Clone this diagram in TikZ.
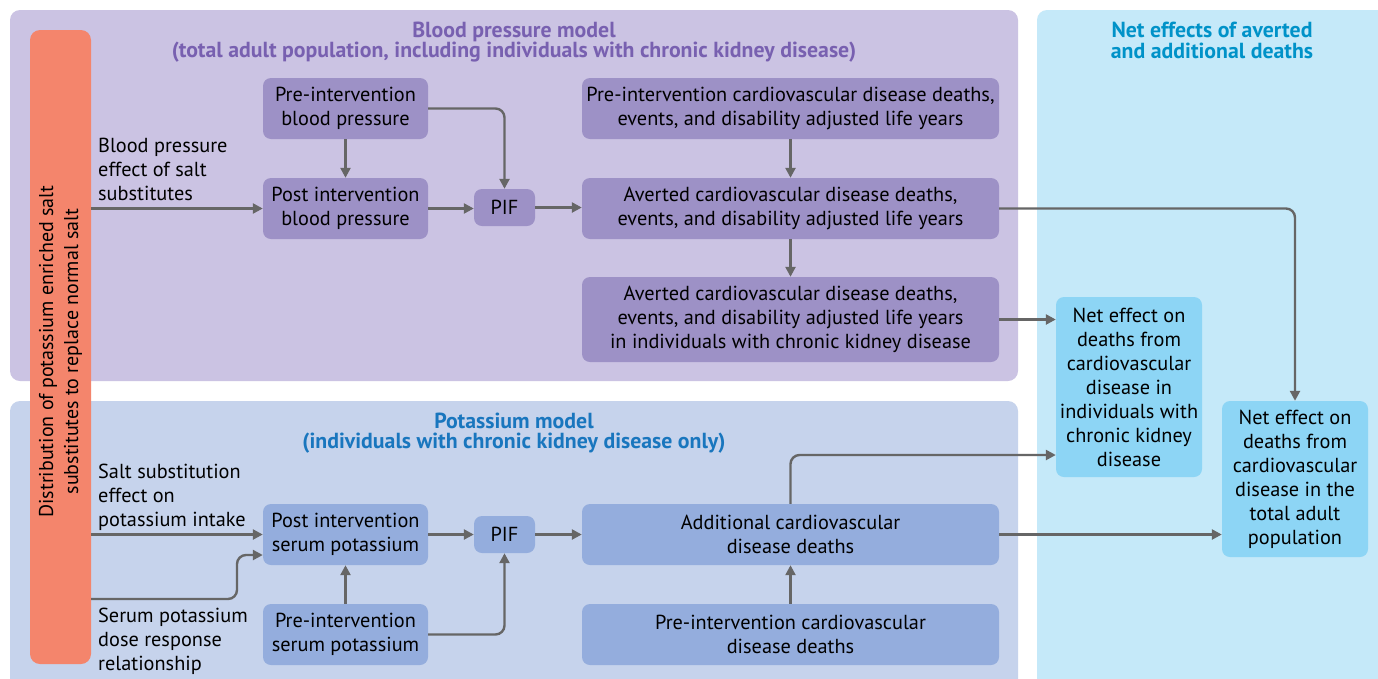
\documentclass[tikz,border=0pt]{standalone}
\usepackage{fontspec}
\setmainfont{PT Sans}
\usetikzlibrary{arrows.meta}
\definecolor{bppanel}{RGB}{203,195,227}
\definecolor{bpbox}{RGB}{157,145,198}
\definecolor{kpanel}{RGB}{198,211,236}
\definecolor{kbox}{RGB}{148,173,221}
\definecolor{netpanel}{RGB}{197,233,249}
\definecolor{netbox}{RGB}{141,213,245}
\definecolor{orangebar}{RGB}{244,133,108}
\definecolor{bptitle}{RGB}{120,96,176}
\definecolor{ktitle}{RGB}{25,118,190}
\definecolor{nettitle}{RGB}{0,146,200}
\definecolor{arrowgray}{RGB}{102,102,102}
\tikzset{
  boxbase/.style={rounded corners=8pt, inner sep=0pt, align=center, font=\fontsize{20.3}{24}\selectfont},
  bpnode/.style={boxbase, fill=bpbox},
  knode/.style={boxbase, fill=kbox},
  netnode/.style={boxbase, fill=netbox},
  lbl/.style={align=left, anchor=base west, inner sep=0pt, font=\fontsize{20.3}{24}\selectfont},
  ttl/.style={align=center, anchor=base, inner sep=0pt, font=\bfseries\fontsize{21.8}{20.5}\selectfont},
  conn/.style={draw=arrowgray, line width=2.4pt, rounded corners=9pt, -{Triangle[length=10pt,width=10pt]}},
}
\begin{document}
\begin{tikzpicture}[x=1pt,y=-1pt]
\clip (0,0) rectangle (1378,678);
\fill[white] (0,0) rectangle (1378,678);
% panels
\fill[bppanel, rounded corners=10pt] (10,10) rectangle (1018,381);
\fill[kpanel, rounded corners=10pt] (10,401) rectangle (1018,700);
\fill[netpanel, rounded corners=10pt] (1037,10) rectangle (1400,700);
% titles (base anchor = last line baseline)
\node[ttl, text=bptitle] (bpt) at (514,57.5) {Blood pressure model\\(total adult population, including individuals with chronic kidney disease)};
\node[ttl, text=ktitle] (kt) at (514,448.5) {Potassium model\\(individuals with chronic kidney disease only)};
\node[ttl, text=nettitle] (nt) at (1212,58) {Net effects of averted\\and additional deaths};
% orange bar
\node[fill=orangebar, rounded corners=10pt, minimum width=634pt, minimum height=61pt, inner sep=0pt, rotate=90] (bar) at (60.5,347) {};
\node[rotate=90, align=center, inner sep=0pt, font=\fontsize{20}{25}\selectfont] (bartext) at (60.5,351.5) {Distribution of potassium enriched salt\\substitutes to replace normal salt};
% BP boxes
\node[bpnode, minimum width=165pt, minimum height=61pt] (prebp) at (345.5,108.5) {Pre-intervention\\blood pressure};
\node[bpnode, minimum width=165pt, minimum height=61pt] (postbp) at (345.5,208.5) {Post intervention\\blood pressure};
\node[bpnode, minimum width=61pt, minimum height=37pt] (pif1) at (504.5,207.5) {PIF};
\node[bpnode, minimum width=417pt, minimum height=61pt] (precvd) at (790.5,108.5) {Pre-intervention cardiovascular disease deaths,\\events, and disability adjusted life years};
\node[bpnode, minimum width=417pt, minimum height=61pt] (avert) at (790.5,208.5) {Averted cardiovascular disease deaths,\\events, and disability adjusted life years};
\node[bpnode, minimum width=417pt, minimum height=85pt] (avertckd) at (790.5,319.5) {Averted cardiovascular disease deaths,\\events, and disability adjusted life years\\in individuals with chronic kidney disease};
% K boxes
\node[knode, minimum width=165pt, minimum height=61pt] (postk) at (345.5,534.5) {Post intervention\\serum potassium};
\node[knode, minimum width=61pt, minimum height=37pt] (pif2) at (504.5,534.5) {PIF};
\node[knode, minimum width=417pt, minimum height=61pt] (addcvd) at (790.5,534.5) {Additional cardiovascular\\disease deaths};
\node[knode, minimum width=165pt, minimum height=61pt] (prek) at (345.5,634.5) {Pre-intervention\\serum potassium};
\node[knode, minimum width=417pt, minimum height=61pt] (precvdk) at (790.5,634.5) {Pre-intervention cardiovascular\\disease deaths};
% net boxes
\node[netnode, minimum width=146pt, minimum height=180pt] (netckd) at (1129,387) {Net effect on\\deaths from\\cardiovascular\\disease in\\individuals with\\chronic kidney\\disease};
\node[netnode, minimum width=146pt, minimum height=156pt] (nettot) at (1295,479) {Net effect on\\deaths from\\cardiovascular\\disease in the\\total adult\\population};
% labels (base anchor = last line baseline)
\node[lbl] (l1) at (98,200) {Blood pressure\\effect of salt\\substitutes};
\node[lbl] (l2) at (98,526) {Salt substitution\\effect on\\potassium intake};
\node[lbl] (l3) at (98,670) {Serum potassium\\dose response\\relationship};
% connectors BP
\coordinate (b1) at (91,208.5);
\draw[conn] (b1) -- (postbp.west);
\draw[conn] (prebp.south) -- (postbp.north);
\draw[conn] (prebp.east) -| (pif1.north);
\draw[conn] (postbp.east) -- (pif1.west |- postbp.east);
\draw[conn] (pif1.east) -- (avert.west |- pif1.east);
\draw[conn] (precvd.south) -- (avert.north);
\draw[conn] (avert.south) -- (avertckd.north);
\draw[conn] (avert.east) -| (nettot.north);
\draw[conn] (avertckd.east) -- (netckd.west |- avertckd.east);
% connectors K
\coordinate (b2) at (91,534.5);
\coordinate (b3) at (91,599);
\coordinate (b3a) at (237,599);
\coordinate (b3b) at (237,555);
\draw[conn] (b2) -- (postk.west);
\draw[conn] (b3) -- (b3a) -- (b3b) -- (postk.west |- b3b);
\draw[conn] (prek.north) -- (postk.south);
\draw[conn] (prek.east) -| (pif2.south);
\draw[conn] (postk.east) -- (pif2.west);
\draw[conn] (pif2.east) -- (addcvd.west);
\draw[conn] (precvdk.north) -- (addcvd.north |- addcvd.south);
\coordinate (c1) at (790.5,455);
\draw[conn] (addcvd.north) -- (c1) -- (netckd.west |- c1);
\draw[conn] (addcvd.east) -- (nettot.west |- addcvd.east);
\end{tikzpicture}
\end{document}
